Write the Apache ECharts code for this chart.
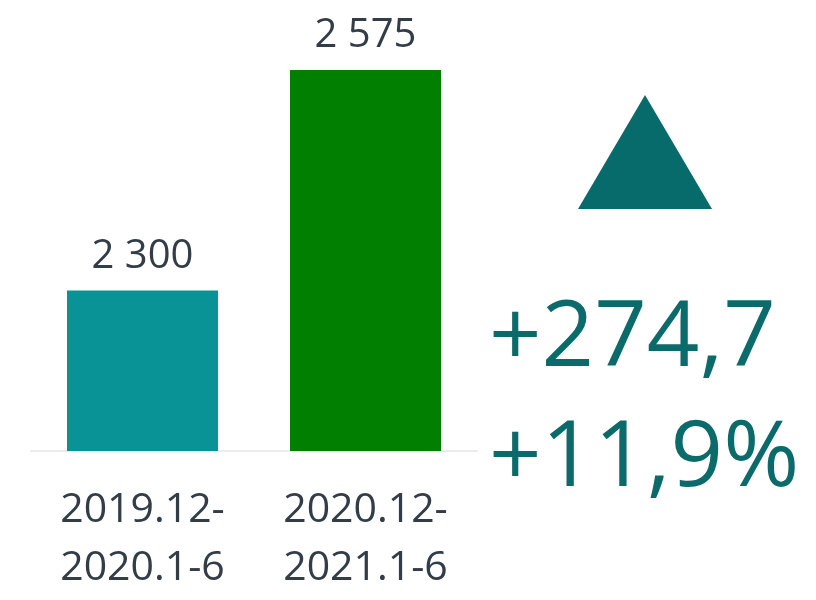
<!DOCTYPE html>
<html style="height: 100%">
<head>
<meta charset="utf-8" />
<title>chart</title>
<script type="text/javascript" src="https://cdn.jsdelivr.net/npm/echarts@6/dist/echarts.min.js"></script>
<style>
  body { margin: 0; height: 100%; background: #fff; }
  #container { width: 816px; height: 600px; }
</style>
</head>
<body>
<div id="container"></div>
<script type="text/javascript">
    var periods = ['2019.12-\n2020.1-6', '2020.12-\n2021.1-6'];
    var values = [2300, 2575];
    var barColors = ['#0a9396', '#007f00'];
    var changeAbs = '+274,7';
    var changePct = '+11,9%';

    var myChart = echarts.init(document.getElementById('container'));

    var option = {
        animation: false,
        grid: { left: 31, right: 339, top: 50, bottom: 149 },
        xAxis: {
            type: 'category',
            data: periods,
            axisLine: { lineStyle: { color: '#ebebeb', width: 2 } },
            axisTick: { show: false },
            axisLabel: {
                color: '#333d47',
                fontFamily: 'Open Sans',
                fontSize: 41,
                lineHeight: 58,
                margin: 30
            }
        },
        yAxis: {
            type: 'value',
            min: 2100,
            max: 2600,
            show: false,
            splitLine: { show: false }
        },
        series: [{
            type: 'bar',
            barWidth: 151,
            data: values.map(function (v, i) {
                return { value: v, itemStyle: { color: barColors[i] } };
            }),
            label: {
                show: true,
                position: 'top',
                distance: 14,
                color: '#333d47',
                fontFamily: 'Open Sans',
                fontSize: 40,
                formatter: function (p) {
                    return String(p.value).replace(/\B(?=(\d{3})+(?!\d))/g, ' ');
                }
            }
        }],
        graphic: [
            {
                type: 'polygon',
                shape: { points: [[578, 209], [712, 209], [645, 95]] },
                style: { fill: '#086b6b' }
            },
            {
                type: 'text',
                style: {
                    x: 489, y: 340, text: changeAbs,
                    fill: '#0b6b6b', font: '500 92px "Open Sans"',
                    textVerticalAlign: 'middle'
                }
            },
            {
                type: 'text',
                style: {
                    x: 489, y: 460, text: changePct,
                    fill: '#0b6b6b', font: '500 92px "Open Sans"',
                    textVerticalAlign: 'middle'
                }
            }
        ]
    };

    myChart.setOption(option);
</script>
</body>
</html>
